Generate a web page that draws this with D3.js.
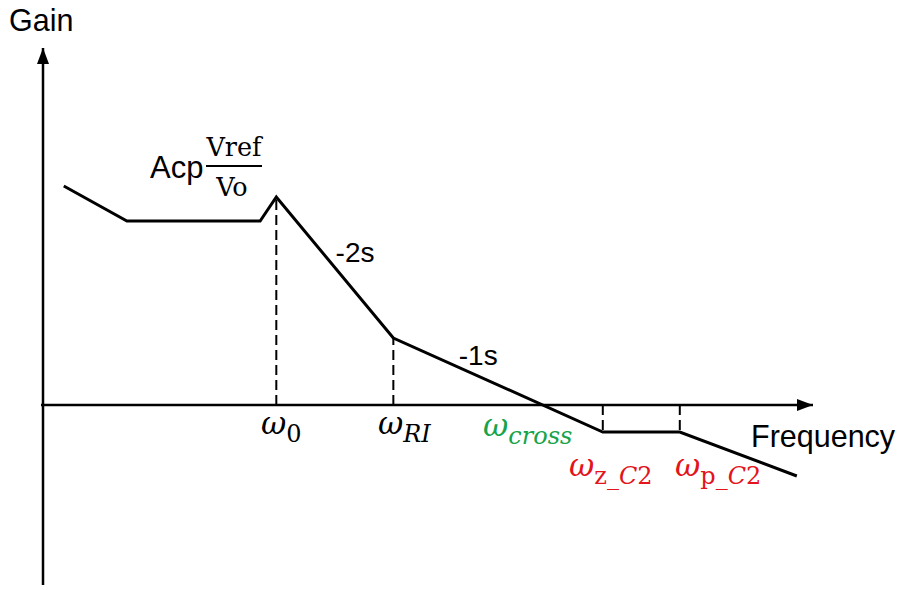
<!DOCTYPE html>
<html>
<head>
<meta charset="utf-8">
<script src="https://cdn.jsdelivr.net/npm/d3@7"></script>
<style>
  body { margin: 0; background: #fff; }
  svg { display: block; }
  .lbl { font-family: Arial, "Liberation Sans", sans-serif; fill: #000; }
  .math { font-family: "DejaVu Serif", "Liberation Serif", serif; }
</style>
</head>
<body>
<div id="chart"></div>
<script>
// asymptotic gain curve (abstract units)
const freq = [0.27, 1.09, 2.82, 3.03, 4.55, 7.27, 8.27, 9.79];
const gain = [4.38, 3.68, 3.68, 4.16, 1.34, -0.54, -0.54, -1.42];

// break frequencies with dashed drop lines
const breakFreq = [3.03, 4.55, 7.27, 8.27];
const breakGain = [4.16, 1.34, -0.54, -0.54];

// slope labels
const slopeText = ['-2s', '-1s'];
const slopeFreq = [3.8, 5.4];
const slopeGain = [2.86, 0.8];

const width = 902, height = 590;

const x = d3.scaleLinear().domain([0, 10]).range([43, 813]);
const y = d3.scaleLinear().domain([-3.6, 7.14]).range([585, 48]);

const svg = d3.select('#chart').append('svg')
  .attr('width', width)
  .attr('height', height);

const defs = svg.append('defs');
defs.append('marker')
  .attr('id', 'arrow')
  .attr('viewBox', '0 0 16 12')
  .attr('refX', 16).attr('refY', 6)
  .attr('markerWidth', 16).attr('markerHeight', 12)
  .attr('markerUnits', 'userSpaceOnUse')
  .attr('orient', 'auto')
  .append('path')
  .attr('d', 'M0,0 L16,6 L0,12 Z')
  .attr('fill', '#000');

// axes
svg.append('line')
  .attr('x1', x(0)).attr('y1', y(-3.6))
  .attr('x2', x(0)).attr('y2', y(7.14))
  .attr('stroke', '#000').attr('stroke-width', 2.5)
  .attr('marker-end', 'url(#arrow)');

svg.append('line')
  .attr('x1', x(0) - 2).attr('y1', y(0))
  .attr('x2', x(10)).attr('y2', y(0))
  .attr('stroke', '#000').attr('stroke-width', 2.5)
  .attr('marker-end', 'url(#arrow)');

// dashed drop lines
svg.append('g').selectAll('line')
  .data(breakFreq)
  .enter().append('line')
  .attr('x1', d => x(d)).attr('x2', d => x(d))
  .attr('y1', y(0))
  .attr('y2', (d, i) => y(breakGain[i]))
  .attr('stroke', '#000').attr('stroke-width', 2)
  .attr('stroke-dasharray', '10,5');

// gain curve
const pts = freq.map((f, i) => [f, gain[i]]);
svg.append('path')
  .datum(pts)
  .attr('fill', 'none')
  .attr('stroke', '#000')
  .attr('stroke-width', 3)
  .attr('stroke-linejoin', 'miter')
  .attr('d', d3.line().x(d => x(d[0])).y(d => y(d[1])));

// axis titles
svg.append('text').attr('class', 'lbl')
  .attr('x', 9).attr('y', 31)
  .attr('font-size', 30.5)
  .text('Gain');

svg.append('text').attr('class', 'lbl')
  .attr('x', 751).attr('y', 447)
  .attr('font-size', 30.5)
  .text('Frequency');

// slope labels
svg.append('g').selectAll('text')
  .data(slopeText)
  .enter().append('text')
  .attr('class', 'lbl')
  .attr('x', (d, i) => x(slopeFreq[i]))
  .attr('y', (d, i) => y(slopeGain[i]))
  .attr('font-size', 28)
  .text(d => d);

// DC gain label Acp * Vref/Vo
svg.append('text').attr('class', 'lbl')
  .attr('x', 150).attr('y', 178)
  .attr('font-size', 31)
  .text('Acp');
svg.append('text').attr('class', 'math')
  .attr('x', 234).attr('y', 156)
  .attr('text-anchor', 'middle')
  .attr('font-size', 25.5)
  .text('Vref');
svg.append('line')
  .attr('x1', 206).attr('x2', 262)
  .attr('y1', 166).attr('y2', 166)
  .attr('stroke', '#000').attr('stroke-width', 1.8);
svg.append('text').attr('class', 'math')
  .attr('x', 232).attr('y', 196)
  .attr('text-anchor', 'middle')
  .attr('font-size', 25.5)
  .text('Vo');

// omega labels
const omegaSub = [
  [{t: '0', i: false}],
  [{t: 'RI', i: true}],
  [{t: 'cross', i: true}],
  [{t: 'z_', i: false}, {t: 'C', i: true}, {t: '2', i: false}],
  [{t: 'p_', i: false}, {t: 'C', i: true}, {t: '2', i: false}]
];
const omegaX = [261, 378, 483, 569, 675];
const omegaY = [434, 434, 436, 476, 476];
const omegaColor = ['#000', '#000', '#17a34a', '#e3141b', '#e3141b'];

const om = svg.append('g').selectAll('text')
  .data(omegaSub)
  .enter().append('text')
  .attr('class', 'math')
  .attr('x', (d, i) => omegaX[i])
  .attr('y', (d, i) => omegaY[i])
  .attr('fill', (d, i) => omegaColor[i]);

om.append('tspan')
  .attr('font-size', 31)
  .attr('font-style', 'italic')
  .text('\u03C9');

om.each(function(d) {
  const t = d3.select(this);
  d.forEach((s, k) => {
    t.append('tspan')
      .attr('font-size', 24)
      .attr('dy', k === 0 ? 8 : 0)
      .attr('font-style', s.i ? 'italic' : 'normal')
      .text(s.t);
  });
});
</script>
</body>
</html>
